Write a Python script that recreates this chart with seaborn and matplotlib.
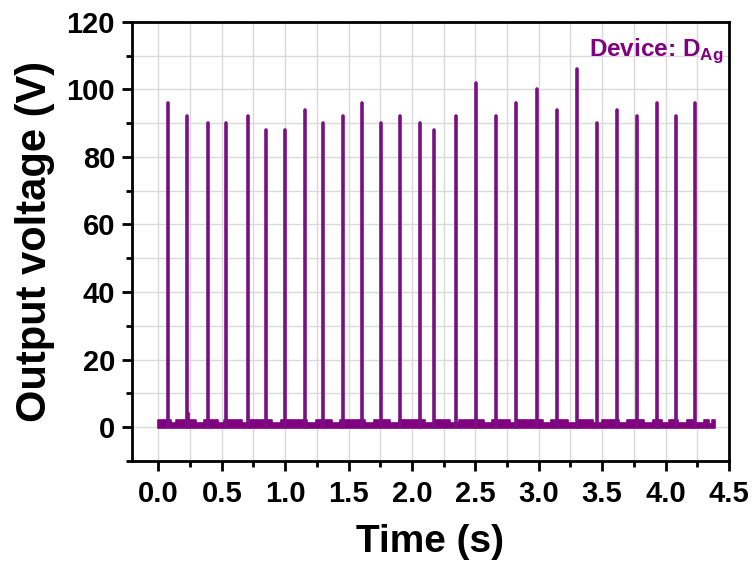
import numpy as np
import pandas as pd
import matplotlib
matplotlib.use("Agg")
import matplotlib.pyplot as plt
from matplotlib.ticker import MultipleLocator
import seaborn as sns

# ---- data ----
peak_times = [0.073, 0.223, 0.395, 0.537, 0.705, 0.850, 1.000, 1.158, 1.302, 1.455,
              1.608, 1.758, 1.908, 2.060, 2.176, 2.350, 2.507, 2.665, 2.823, 2.983,
              3.147, 3.305, 3.462, 3.615, 3.775, 3.931, 4.086, 4.236]
peak_heights = [96, 92, 90, 90, 92, 88, 88, 94, 90, 92,
                96, 90, 92, 90, 88, 92, 102, 92, 96, 100,
                94, 106, 90, 94, 92, 96, 92, 96]

baseline_edges = [0.00, 0.05, 0.10, 0.14, 0.20, 0.23, 0.245, 0.30, 0.36, 0.42,
                  0.47, 0.52, 0.60, 0.66, 0.72, 0.78, 0.84, 0.90, 0.97, 1.03,
                  1.10, 1.17, 1.24, 1.30, 1.37, 1.43, 1.50, 1.57, 1.63, 1.70,
                  1.77, 1.83, 1.90, 1.97, 2.03, 2.10, 2.17, 2.23, 2.30, 2.37,
                  2.43, 2.50, 2.57, 2.63, 2.70, 2.77, 2.83, 2.90, 2.97, 3.03,
                  3.10, 3.17, 3.23, 3.30, 3.37, 3.43, 3.50, 3.57, 3.63, 3.70,
                  3.77, 3.83, 3.90, 3.97, 4.03, 4.10, 4.17, 4.23, 4.30, 4.34,
                  4.37, 4.39]
baseline_levels = [2.2, 2.2, 1.3, 2.2, 2.2, 4.2, 2.2, 1.3, 2.2, 2.2,
                   1.3, 2.2, 2.2, 1.3, 2.2, 2.2, 2.2, 1.3, 2.2, 2.2,
                   2.2, 1.3, 2.2, 2.2, 1.3, 2.2, 2.2, 2.2, 1.3, 2.2,
                   2.2, 1.3, 2.2, 2.2, 2.2, 1.3, 2.2, 2.2, 1.3, 2.2,
                   2.2, 2.2, 1.3, 2.2, 2.2, 1.3, 2.2, 2.2, 2.2, 1.3,
                   2.2, 2.2, 1.3, 2.2, 2.2, 1.3, 2.2, 2.2, 1.3, 2.2,
                   2.2, 1.3, 2.2, 1.3, 2.2, 1.3, 2.2, 1.3, 2.2, 0.8,
                   2.2]

x_ticks = [0.0, 0.5, 1.0, 1.5, 2.0, 2.5, 3.0, 3.5, 4.0, 4.5]
y_ticks = [0, 20, 40, 60, 80, 100, 120]

# ---- style ----
sns.set_theme(style="white")
plt.rcParams["font.family"] = ["Liberation Sans", "DejaVu Sans"]
plt.rcParams["font.weight"] = "bold"
plt.rcParams["mathtext.fontset"] = "custom"
plt.rcParams["mathtext.bf"] = "Liberation Sans:bold"
plt.rcParams["mathtext.rm"] = "Liberation Sans:bold"

purple = "#800080"
spike_color = "#7a0f83"

fig = plt.figure(figsize=(7.53, 5.62), dpi=100)
ax = fig.add_axes([0.175, 0.180, 0.793, 0.781])

# baseline band
lev = baseline_levels + [baseline_levels[-1]]
ax.fill_between(baseline_edges, -0.4, lev, step="post", color=purple,
                lw=1.2, edgecolor=purple, zorder=3)

# spikes
rows = []
for i, (t, h) in enumerate(zip(peak_times, peak_heights)):
    rows.append({"t": t, "v": 0.0, "pulse": i})
    rows.append({"t": t, "v": h, "pulse": i})
df = pd.DataFrame(rows)
sns.lineplot(data=df, x="t", y="v", units="pulse", estimator=None, sort=False,
             color=spike_color, lw=2.6, ax=ax, zorder=4)

ax.set_xlim(-0.21, 4.5)
ax.set_ylim(-10, 120)
ax.set_xticks(x_ticks)
ax.set_yticks(y_ticks)
ax.set_xticklabels([f"{v:.1f}" for v in x_ticks])
ax.set_yticklabels([str(v) for v in y_ticks])
ax.xaxis.set_minor_locator(MultipleLocator(0.25))
ax.yaxis.set_minor_locator(MultipleLocator(10))

ax.grid(True, which="both", color="#dadada", lw=1.0, zorder=0)
ax.set_axisbelow(True)

for s in ax.spines.values():
    s.set_color("black")
    s.set_linewidth(2.0)

ax.tick_params(axis="both", which="major", direction="out", length=7, width=2,
               labelsize=21, color="black", labelcolor="black",
               bottom=True, left=True, top=False, right=False)
ax.tick_params(axis="both", which="minor", direction="out", length=4, width=2,
               color="black", bottom=True, left=True, top=False, right=False)
ax.tick_params(axis="y", which="major", pad=5)
ax.tick_params(axis="x", which="major", pad=7)

ax.set_xlabel("Time (s)", fontsize=28, fontweight="bold", labelpad=11, color="black")
ax.set_ylabel("Output voltage (V)", fontsize=30, fontweight="bold", labelpad=8, color="black")

ax.text(0.99, 0.922, r"Device: D$_{\mathbf{Ag}}$", transform=ax.transAxes,
        ha="right", va="baseline", fontsize=17.5, fontweight="bold", color=purple)

fig.savefig("out.png", dpi=100)
